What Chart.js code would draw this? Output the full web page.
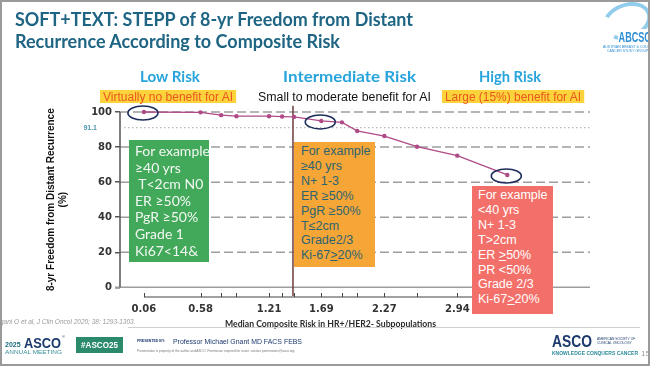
<!DOCTYPE html>
<html>
<head>
<meta charset="utf-8">
<script src="https://cdn.jsdelivr.net/npm/chart.js@4.4.1/dist/chart.umd.min.js"></script>
<style>
  html, body { margin: 0; padding: 0; }
  body { width: 650px; height: 366px; position: relative; overflow: hidden; background: #fff; font-family: "Liberation Sans", Arial, sans-serif; }
  #frame { position: absolute; left: 0; top: 0; width: 646px; height: 362px; border: 2px solid #9a9a9a; z-index: 20; pointer-events: none; }
  canvas { position: absolute; left: 0; top: 0; }
  .t { position: absolute; white-space: nowrap; transform-origin: 0 0; line-height: 1; }
  .title { font-family: Lato, sans-serif; font-weight: 700; font-size: 19px; color: #1e6584; }
  .risk { font-family: Lato, sans-serif; font-weight: 700; font-size: 15px; color: #27a4dc; }
  .sub { font-size: 12px; }
  .hl { background: #fdd33c; color: #e8561f; padding: 1px 3px 0 3px; height: 12px; }
  .box { position: absolute; z-index: 5; box-sizing: border-box; }
  .box div { white-space: nowrap; }
  #green { left: 129px; top: 140px; width: 80px; height: 122px; background: #43a95a; color: #f3f7f3; font-family: Lato, sans-serif; font-size: 14px; line-height: 16.6px; padding: 3px 0 0 6px; }
  #orange { left: 294px; top: 142px; width: 81px; height: 125px; background: #f6a636; color: #2c6472; font-size: 12.5px; line-height: 14.9px; padding: 2px 0 0 7px; }
  #red { left: 472px; top: 186px; width: 81px; height: 128px; background: #f36f69; color: #fff; font-size: 12.5px; line-height: 14.9px; padding: 2px 0 0 6px; }
  u { text-decoration-thickness: 1px; text-underline-offset: 1px; }
  #logo { position: absolute; left: 602px; top: 3px; width: 42px; height: 28px; border: 4px solid #93cdec; border-radius: 50%; transform: rotate(-20deg); border-left-color: transparent; }
</style>
</head>
<body>
<canvas id="stepp" width="650" height="366"></canvas>
<div id="frame"></div>

<div class="t title" style="left:15px; top:9px;" data-w="398">SOFT+TEXT: STEPP of 8-yr Freedom from Distant</div>
<div class="t title" style="left:15px; top:31px;" data-w="325">Recurrence According to Composite Risk</div>

<!-- ABCSG logo -->
<div id="logo"></div>
<div class="t" style="left:618px; top:29px; font-weight:700; font-size:15px; color:#2f8fd5; background:#fff; padding:0 1px;" data-w="34">ABCSG</div>
<div class="t" style="left:603px; top:45px; font-size:3.5px; color:#2f8fd5; line-height:4px;">AUSTRIAN BREAST &amp; COLORECTAL<br>&nbsp;&nbsp;&nbsp;&nbsp;CANCER STUDY GROUP</div>

<div class="t risk" style="left:140px; top:69px;" data-w="60">Low Risk</div>
<div class="t risk" style="left:283px; top:69px;" data-w="133">Intermediate Risk</div>
<div class="t risk" style="left:479px; top:69px;" data-w="62">High Risk</div>

<div class="t sub hl" style="left:100px; top:90px;" data-w="136">Virtually no benefit for AI</div>
<div class="t sub" style="left:258px; top:91px; color:#111;" data-w="173">Small to moderate benefit for AI</div>
<div class="t sub hl" style="left:442px; top:90px;" data-w="142">Large (15%) benefit for AI</div>

<div class="box" id="green">
  <div>For example</div><div>≥40 yrs</div><div>&nbsp;T&lt;2cm N0</div><div>ER ≥50%</div><div>PgR ≥50%</div><div>Grade 1</div><div>Ki67&lt;14&amp;</div>
</div>
<div class="box" id="orange">
  <div>For example</div><div>≥40 yrs</div><div>N+ 1-3</div><div>ER ≥50%</div><div>PgR ≥50%</div><div>T≤2cm</div><div>Grade2/3</div><div>Ki-67<u>&gt;</u>20%</div>
</div>
<div class="box" id="red">
  <div>For example</div><div>&lt;40 yrs</div><div>N+ 1-3</div><div>T&gt;2cm</div><div>ER <u>&gt;</u>50%</div><div>PR &lt;50%</div><div>Grade 2/3</div><div>Ki-67<u>&gt;</u>20%</div>
</div>

<div class="t" style="left:225px; top:319px; font-family:Lato,sans-serif; font-weight:700; font-size:9.5px; color:#2a2a2a;" data-w="211">Median Composite Risk in HR+/HER2- Subpopulations</div>
<div class="t" style="left:-8px; top:319px; font-style:italic; font-size:6.5px; color:#9a9a9a;">Pagani O et al, J Clin Oncol 2020; 38: 1293-1303.</div>
<div style="position:absolute; left:128px; top:327px; width:512px; height:1px; background:#d0d0d0;"></div>

<!-- footer -->
<div class="t" style="left:5px; top:341px; font-size:7px; font-weight:700; color:#1d6d7c;">2025</div>
<div class="t" style="left:24px; top:335px; font-size:15px; font-weight:700; color:#1d3a6e;" data-w="37">ASCO</div>
<div class="t" style="left:62px; top:335px; font-size:4px; color:#1d3a6e;">®</div>
<div class="t" style="left:5px; top:350px; font-size:5.5px; color:#3b8f99;" data-w="57">ANNUAL MEETING</div>
<div style="position:absolute; left:76px; top:337px; width:47px; height:16px; background:#2b8a6b;"></div>
<div class="t" style="left:81px; top:341px; font-size:8.5px; font-weight:700; color:#fff;" data-w="37">#ASCO25</div>
<div class="t" style="left:137px; top:340px; font-size:3.5px; font-weight:700; color:#1d3a6e;">PRESENTED BY:</div>
<div class="t" style="left:173px; top:338px; font-size:7.5px; color:#1d3a6e;" data-w="129">Professor Michael Gnant MD FACS FEBS</div>
<div class="t" style="left:137px; top:350px; font-size:3.2px; color:#777;">Presentation is property of the author and ASCO. Permission required for reuse; contact permissions@asco.org.</div>
<div class="t" style="left:552px; top:334px; font-size:16px; font-weight:700; color:#1d3a6e;" data-w="40">ASCO</div>
<div class="t" style="left:597px; top:337px; font-size:3.3px; color:#1d3a6e; line-height:4px;">AMERICAN SOCIETY OF<br>CLINICAL ONCOLOGY</div>
<div class="t" style="left:552px; top:351px; font-size:5.5px; font-weight:700; color:#2b8a9a;" data-w="86">KNOWLEDGE CONQUERS CANCER</div>
<div class="t" style="left:641px; top:350px; font-size:8px; color:#999;">15</div>

<script>
// median composite risk of each subpopulation (x) and 8-yr freedom from distant recurrence, % (y)
const riskMedian = [0.06, 0.58, 0.77, 0.91, 1.21, 1.33, 1.44, 1.69, 1.88, 2.02, 2.27, 2.57, 2.94, 3.40];
const freedom = [100.0, 99.8, 98.2, 97.6, 97.6, 97.4, 97.2, 94.9, 94.1, 89.2, 86.3, 80.2, 75.1, 64.1];
const xTickLabels = ['0.06', '0.58', '1.21', '1.69', '2.27', '2.94'];
const yTicks = [0, 20, 40, 60, 80, 100];
const overallRate = 91.1;
const lowIntBoundary = 1.43;
const circled = [0, 7, 13];

const overlay = {
  id: 'overlay',
  beforeDatasetsDraw(chart) {
    const { ctx, chartArea: a, scales: { x, y } } = chart;
    ctx.save();
    // horizontal reference lines
    yTicks.forEach(v => {
      const py = y.getPixelForValue(v);
      ctx.beginPath();
      ctx.setLineDash(v === 0 ? [] : [9, 4]);
      ctx.strokeStyle = '#9d9d9d';
      ctx.lineWidth = 1.5;
      ctx.moveTo(v === 0 ? a.left - 5 : a.left, py);
      ctx.lineTo(a.right, py);
      ctx.stroke();
    });
    const pr = y.getPixelForValue(overallRate);
    ctx.beginPath();
    ctx.setLineDash([1.5, 2.5]);
    ctx.strokeStyle = '#b9b9b9';
    ctx.lineWidth = 1.2;
    ctx.moveTo(a.left + 4, pr);
    ctx.lineTo(a.right, pr);
    ctx.stroke();
    ctx.setLineDash([]);
    ctx.font = 'bold 7px "Liberation Sans"';
    ctx.fillStyle = '#4b97ad';
    ctx.textAlign = 'right';
    ctx.textBaseline = 'middle';
    ctx.fillText(overallRate.toFixed(1), a.left - 23, pr);

    // y axis line
    ctx.strokeStyle = '#555';
    ctx.lineWidth = 1.5;
    ctx.beginPath();
    ctx.moveTo(a.left, y.getPixelForValue(100));
    ctx.lineTo(a.left, y.getPixelForValue(0));
    ctx.stroke();

    // x axis line with a tick at every subpopulation
    const base = a.bottom;
    ctx.strokeStyle = '#444';
    ctx.lineWidth = 1;
    ctx.beginPath();
    ctx.moveTo(x.getPixelForValue(riskMedian[0]), base);
    ctx.lineTo(x.getPixelForValue(riskMedian[riskMedian.length - 1]), base);
    riskMedian.forEach(v => {
      const px = Math.round(x.getPixelForValue(v)) + 0.5;
      ctx.moveTo(px, base);
      ctx.lineTo(px, base - 4);
    });
    ctx.stroke();

    // low / intermediate boundary
    const bx = x.getPixelForValue(lowIntBoundary);
    ctx.strokeStyle = '#6d3c3c';
    ctx.lineWidth = 1.5;
    ctx.beginPath();
    ctx.moveTo(bx, y.getPixelForValue(103.5));
    ctx.lineTo(bx, base - 1);
    ctx.stroke();
    ctx.restore();
  },
  afterDatasetsDraw(chart) {
    const { ctx, scales: { x, y } } = chart;
    ctx.save();
    ctx.strokeStyle = '#1c2d5c';
    ctx.lineWidth = 1.6;
    circled.forEach(i => {
      ctx.beginPath();
      ctx.ellipse(x.getPixelForValue(riskMedian[i]) - 1, y.getPixelForValue(freedom[i]) + 1, 15, 7, 0, 0, Math.PI * 2);
      ctx.stroke();
    });
    ctx.restore();
  },
  afterDraw(chart) {
    const { ctx, scales: { y } } = chart;
    const cy = (y.getPixelForValue(0) + y.getPixelForValue(100)) / 2;
    ctx.save();
    ctx.translate(51, cy);
    ctx.rotate(-Math.PI / 2);
    ctx.font = 'bold 10px "Liberation Sans"';
    ctx.fillStyle = '#111';
    ctx.textAlign = 'center';
    ctx.textBaseline = 'middle';
    ctx.fillText('8-yr Freedom from Distant Recurrence', 0, 0);
    ctx.fillText('(%)', 0, 12);
    ctx.restore();
  }
};

new Chart(document.getElementById('stepp'), {
  type: 'line',
  data: {
    datasets: [{
      data: riskMedian.map((v, i) => ({ x: v, y: freedom[i] })),
      borderColor: '#b04a86',
      backgroundColor: '#b04a86',
      borderWidth: 1.3,
      pointRadius: 2.2,
      pointBorderWidth: 0,
      tension: 0,
      clip: false
    }]
  },
  options: {
    responsive: false,
    animation: false,
    devicePixelRatio: 1,
    layout: { padding: { top: 112, right: 60, left: 0, bottom: 0 } },
    plugins: { legend: { display: false }, tooltip: { enabled: false } },
    scales: {
      x: {
        type: 'linear',
        min: -0.16,
        max: 4.16,
        afterBuildTicks: s => { s.ticks = riskMedian.map(v => ({ value: v })); },
        afterFit: s => { s.height = 69; },
        border: { display: false },
        grid: { display: true, drawOnChartArea: false, drawTicks: false, color: 'rgba(0,0,0,0)' },
        ticks: {
          autoSkip: false,
          maxRotation: 0,
          padding: 6,
          color: '#333',
          font: { family: 'DejaVu Sans', weight: 'bold', size: 10 },
          callback: v => xTickLabels.find(l => Number(l) === v) || ''
        }
      },
      y: {
        min: -5.5,
        max: 100,
        afterBuildTicks: s => { s.ticks = yTicks.map(v => ({ value: v })); },
        afterFit: s => { s.width = 120; },
        border: { display: false },
        grid: { drawOnChartArea: false, drawTicks: true, tickLength: 5, color: '#555', lineWidth: 1.5 },
        ticks: {
          padding: 3,
          color: '#333',
          font: { family: 'DejaVu Sans', weight: 'bold', size: 10 }
        }
      }
    }
  },
  plugins: [overlay]
});

// squeeze/stretch slide text to the widths it has on the slide
document.querySelectorAll('[data-w]').forEach(el => {
  const w = el.getBoundingClientRect().width;
  el.style.transform = 'scaleX(' + (el.dataset.w / w) + ')';
});
</script>
</body>
</html>
